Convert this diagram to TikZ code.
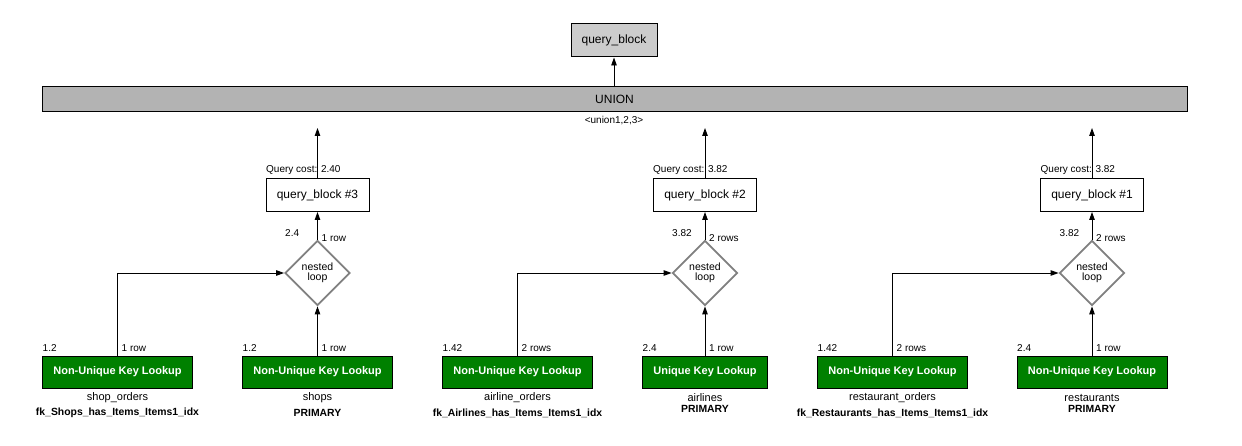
\documentclass[tikz,border=0pt]{standalone}
\usepackage{fontspec}
\setmainfont{Liberation Sans}
\usetikzlibrary{shapes.geometric,arrows.meta}
\definecolor{lkgreen}{RGB}{0,128,0}
\definecolor{qbgray}{RGB}{204,204,204}
\definecolor{ungray}{RGB}{179,179,179}
\definecolor{dmgray}{RGB}{128,128,128}
\newcommand\fsz[2]{\fontsize{#1}{#2}\selectfont}
\begin{document}
\begin{tikzpicture}[x=1pt,y=-1pt,
  qbstyle/.style={draw=black, line width=1pt, inner sep=0pt, minimum width=103pt, minimum height=33pt, font=\fsz{12}{14}},
  lookup/.style={draw=black, line width=1pt, fill=lkgreen, text=white, inner sep=0pt, minimum width=150pt, minimum height=32pt, font=\bfseries\fsz{11}{13}},
  dmd/.style={diamond, draw=dmgray, line width=1.8pt, inner sep=0pt, minimum width=65pt, minimum height=65pt, align=center, font=\fsz{10.5}{10}},
  lbl/.style={inner sep=0pt, anchor=west, font=\fsz{10}{12}},
  tname/.style={inner sep=0pt, font=\fsz{11}{13}},
  tidx/.style={inner sep=0pt, font=\bfseries\fsz{10.4}{12}},
  arr/.style={-{Triangle[length=8pt,width=5.5pt]}, line width=0.9pt, draw=black}
]
\useasboundingbox[fill=white] (0,0) rectangle (1242,446);

% top
\node[draw=black, line width=1pt, fill=qbgray, minimum width=86pt, minimum height=33pt, inner sep=0pt, font=\fsz{12}{14}] (qb) at (614,40.5) {query\_block};
\node[draw=black, line width=1pt, fill=ungray, minimum width=1145pt, minimum height=25pt, inner sep=0pt, font=\fsz{12}{14}] (union) at (614.5,99.5) {UNION};
\node[inner sep=0pt, font=\fsz{10}{12}] (ulbl) at (614,121) {<union1,2,3>};
\draw[arr] (union.north -| qb.south) -- (qb.south);

% query blocks
\node[lbl] (c3) at (266,170) {Query cost: 2.40};
\node[lbl] (c2) at (653,170) {Query cost: 3.82};
\node[lbl] (c1) at (1040.5,170) {Query cost: 3.82};
\node[qbstyle] (qb3) at (317.5,195) {query\_block \#3};
\node[qbstyle] (qb2) at (705,195) {query\_block \#2};
\node[qbstyle] (qb1) at (1092,195) {query\_block \#1};
\coordinate (t3) at (317.5,128);
\coordinate (t2) at (705,128);
\coordinate (t1) at (1092,128);
\draw[arr] (qb3.north) -- (t3);
\draw[arr] (qb2.north) -- (t2);
\draw[arr] (qb1.north) -- (t1);

% diamonds
\node[dmd] (d3) at (317.5,273) {nested\\loop};
\node[dmd] (d2) at (705,273) {nested\\loop};
\node[dmd] (d1) at (1092,273) {nested\\loop};
\draw[arr] (d3.north) -- (qb3.south);
\draw[arr] (d2.north) -- (qb2.south);
\draw[arr] (d1.north) -- (qb1.south);
\node[lbl] at (285,233) {2.4};
\node[lbl] at (321.5,238) {1 row};
\node[lbl] at (672,233) {3.82};
\node[lbl] at (709,238) {2 rows};
\node[lbl] at (1059.5,233) {3.82};
\node[lbl] at (1096,238) {2 rows};

% lookups
\node[lookup] (so) at (117.5,372) {Non-Unique Key Lookup};
\node[lookup] (sh) at (317.5,372) {Non-Unique Key Lookup};
\node[lookup] (ao) at (517.5,372) {Non-Unique Key Lookup};
\node[lookup, minimum width=125pt] (al) at (705,372) {Unique Key Lookup};
\node[lookup] (ro) at (892.5,372) {Non-Unique Key Lookup};
\node[lookup] (re) at (1092,372) {Non-Unique Key Lookup};

\draw[arr] (so.north) |- (d3.west);
\draw[arr] (sh.north) -- (d3.south);
\draw[arr] (ao.north) |- (d2.west);
\draw[arr] (al.north) -- (d2.south);
\draw[arr] (ro.north) |- (d1.west);
\draw[arr] (re.north) -- (d1.south);

% labels above lookups
\node[lbl] at (42.5,348) {1.2};
\node[lbl] at (121.5,348) {1 row};
\node[lbl] at (242.5,348) {1.2};
\node[lbl] at (321.5,348) {1 row};
\node[lbl] at (442.5,348) {1.42};
\node[lbl] at (521.5,348) {2 rows};
\node[lbl] at (642.5,348) {2.4};
\node[lbl] at (709,348) {1 row};
\node[lbl] at (817.5,348) {1.42};
\node[lbl] at (896.5,348) {2 rows};
\node[lbl] at (1017,348) {2.4};
\node[lbl] at (1096,348) {1 row};

% labels below lookups
\node[tname] at (117.5,397.5) {shop\_orders};
\node[tidx] at (117.5,413) {fk\_Shops\_has\_Items\_Items1\_idx};
\node[tname] at (317.5,397.5) {shops};
\node[tidx] at (317.5,413) {PRIMARY};
\node[tname] at (517.5,397.5) {airline\_orders};
\node[tidx] at (517.5,413) {fk\_Airlines\_has\_Items\_Items1\_idx};
\node[tname] at (705,397.5) {airlines};
\node[tidx] at (705,408.5) {PRIMARY};
\node[tname] at (892.5,397.5) {restaurant\_orders};
\node[tidx] at (892.5,413) {fk\_Restaurants\_has\_Items\_Items1\_idx};
\node[tname] at (1092,397.5) {restaurants};
\node[tidx] at (1092,408.5) {PRIMARY};
\end{tikzpicture}
\end{document}
